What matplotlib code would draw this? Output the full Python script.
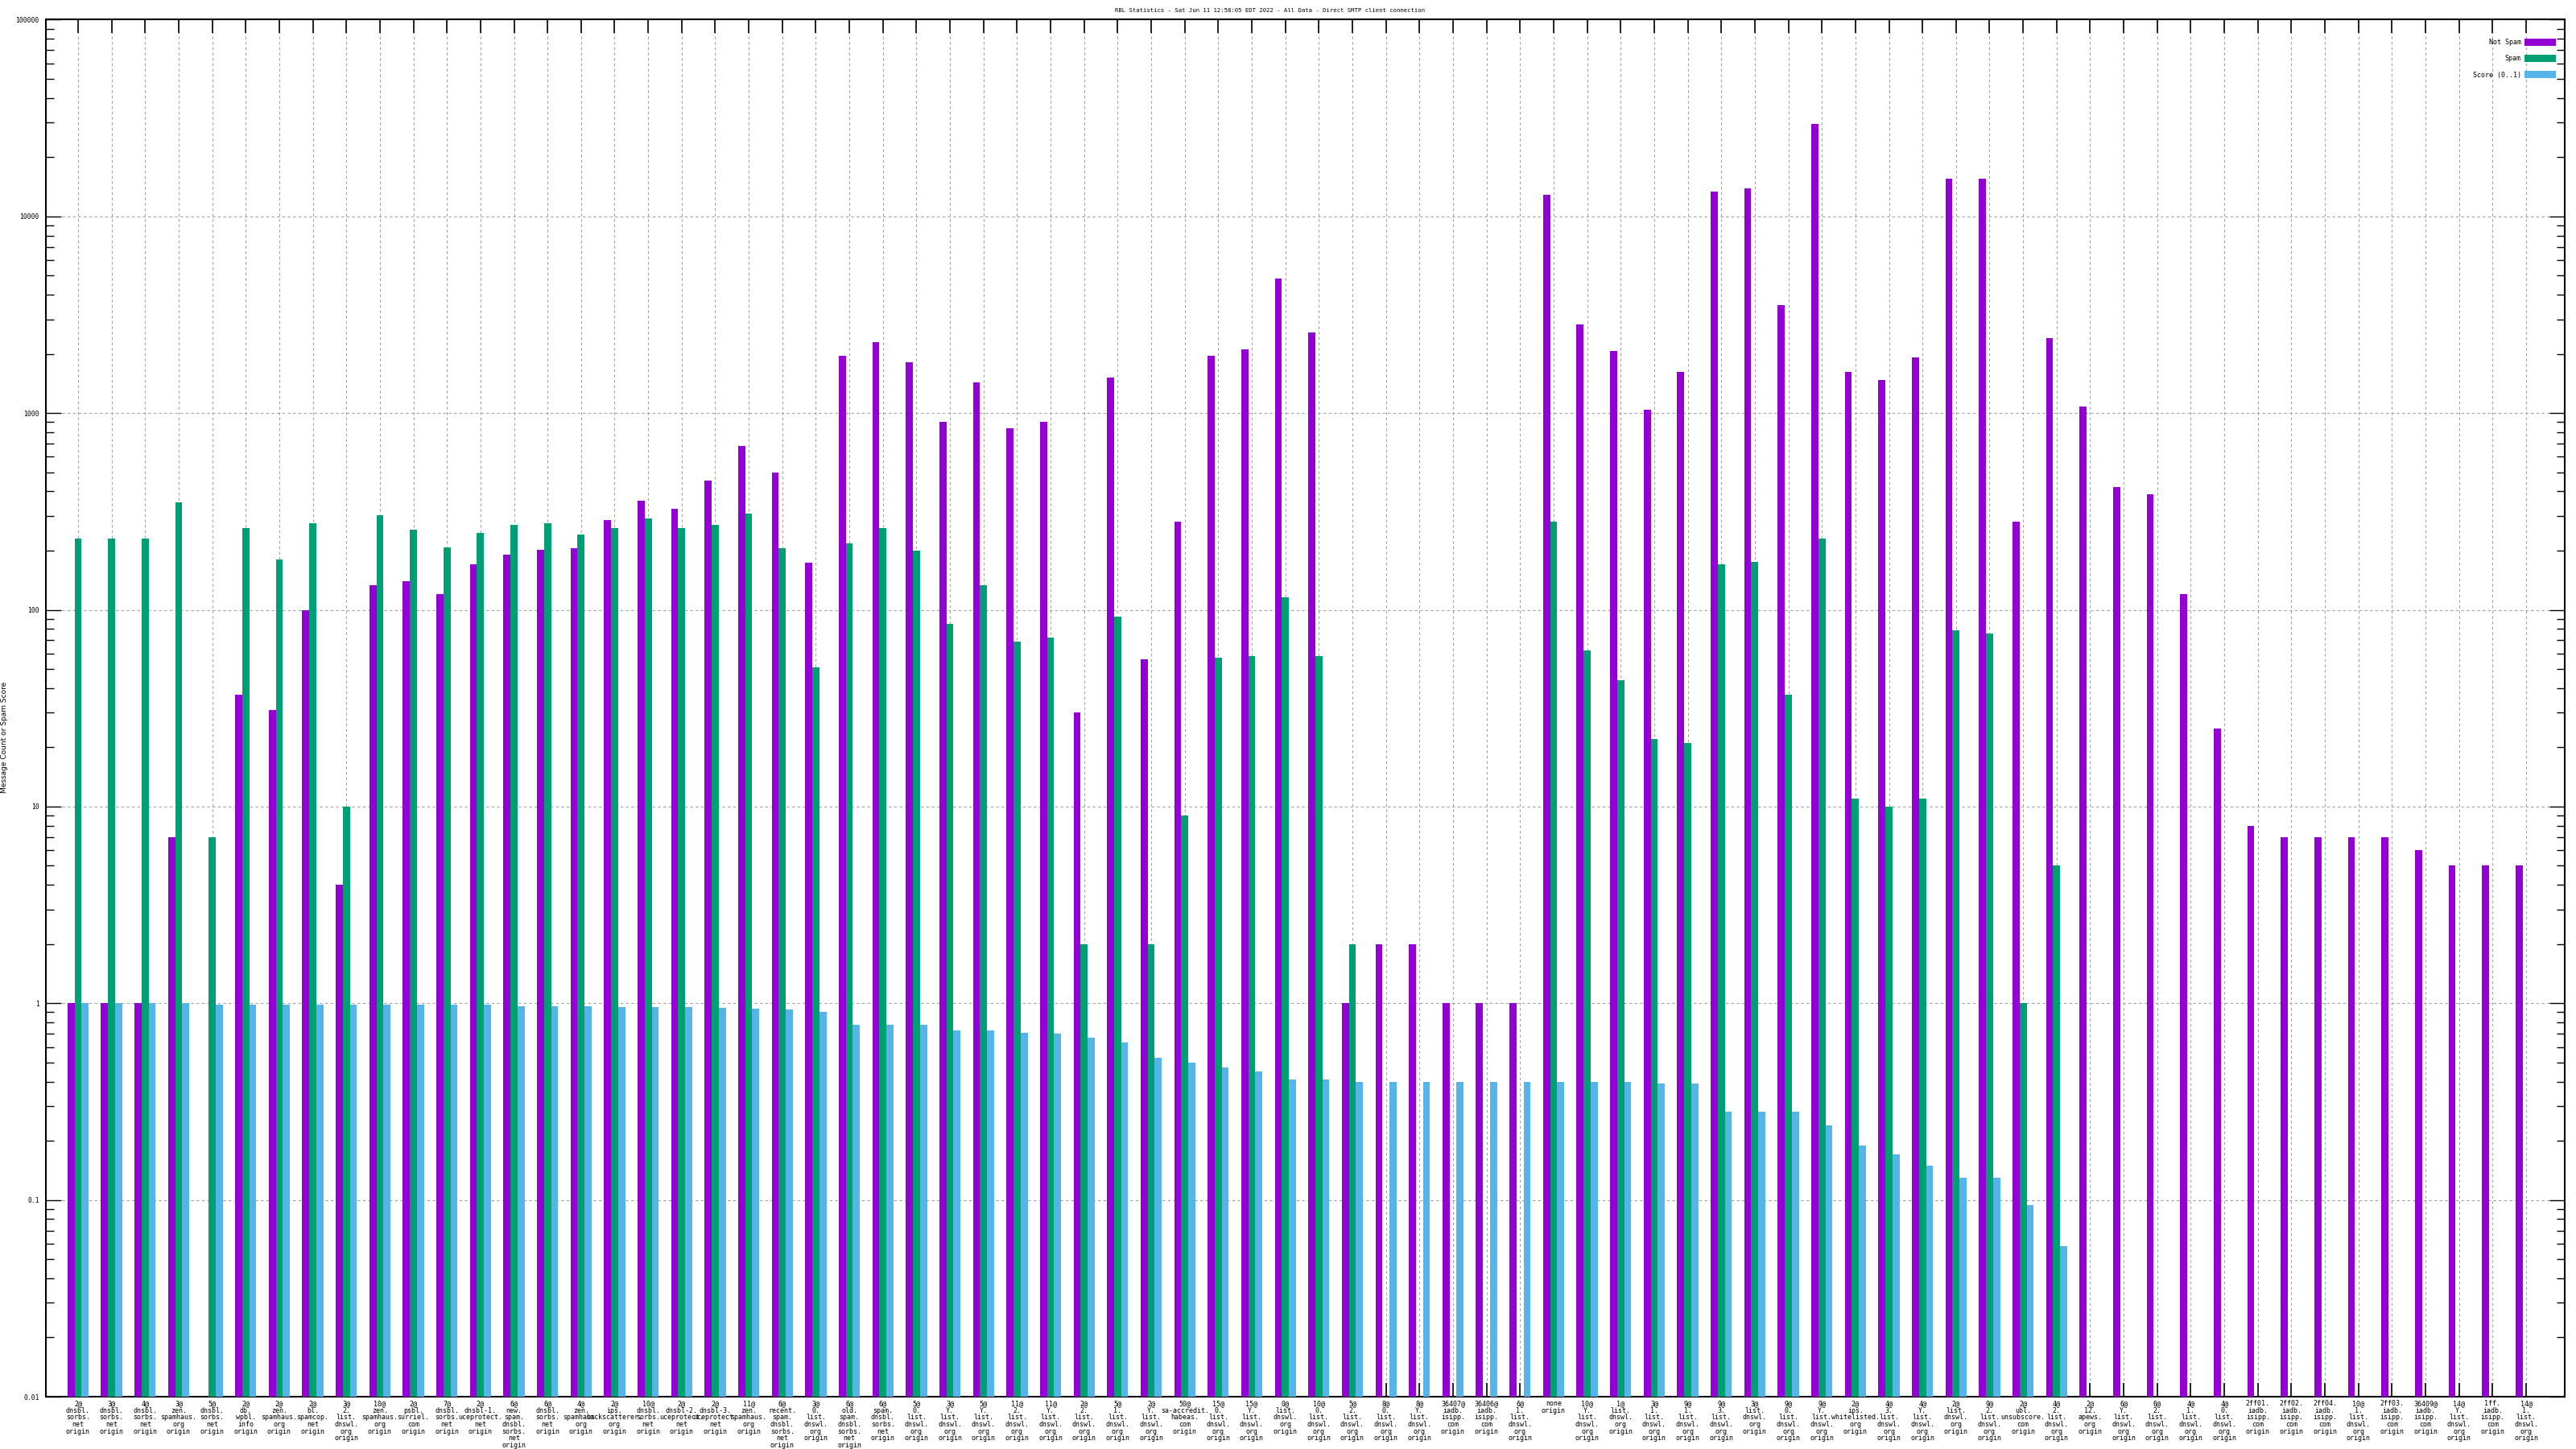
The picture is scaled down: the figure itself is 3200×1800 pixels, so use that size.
import matplotlib
matplotlib.use("Agg")
import matplotlib.pyplot as plt
from matplotlib.ticker import LogLocator, NullFormatter
import numpy as np

TITLE = "RBL Statistics - Sat Jun 11 12:58:05 EDT 2022 - All Data - Direct SMTP client connection"

# rbl sources, in plot order ("origin" is appended to each label)
sources = [
    "2@dnsbl.sorbs.net", "3@dnsbl.sorbs.net", "4@dnsbl.sorbs.net", "3@zen.spamhaus.org",
    "5@dnsbl.sorbs.net", "2@db.wpbl.info", "2@zen.spamhaus.org", "2@bl.spamcop.net",
    "3@2.list.dnswl.org", "10@zen.spamhaus.org", "2@psbl.surriel.com", "7@dnsbl.sorbs.net",
    "2@dnsbl-1.uceprotect.net", "6@new.spam.dnsbl.sorbs.net", "6@dnsbl.sorbs.net",
    "4@zen.spamhaus.org", "2@ips.backscatterer.org", "10@dnsbl.sorbs.net",
    "2@dnsbl-2.uceprotect.net", "2@dnsbl-3.uceprotect.net", "11@zen.spamhaus.org",
    "6@recent.spam.dnsbl.sorbs.net", "3@0.list.dnswl.org", "6@old.spam.dnsbl.sorbs.net",
    "6@spam.dnsbl.sorbs.net", "5@0.list.dnswl.org", "3@Y.list.dnswl.org", "5@Y.list.dnswl.org",
    "11@2.list.dnswl.org", "11@Y.list.dnswl.org", "2@2.list.dnswl.org", "5@1.list.dnswl.org",
    "2@Y.list.dnswl.org", "50@sa-accredit.habeas.com", "15@0.list.dnswl.org",
    "15@Y.list.dnswl.org", "0@list.dnswl.org", "10@0.list.dnswl.org", "5@2.list.dnswl.org",
    "8@0.list.dnswl.org", "8@Y.list.dnswl.org", "36407@iadb.isipp.com", "36406@iadb.isipp.com",
    "6@1.list.dnswl.org", "none", "10@Y.list.dnswl.org", "1@list.dnswl.org",
    "3@1.list.dnswl.org", "9@1.list.dnswl.org", "9@3.list.dnswl.org", "3@list.dnswl.org",
    "9@0.list.dnswl.org", "9@Y.list.dnswl.org", "2@ips.whitelisted.org", "4@3.list.dnswl.org",
    "4@Y.list.dnswl.org", "2@list.dnswl.org", "9@2.list.dnswl.org", "2@ubl.unsubscore.com",
    "4@2.list.dnswl.org", "2@12.apews.org", "6@Y.list.dnswl.org", "6@2.list.dnswl.org",
    "4@1.list.dnswl.org", "4@0.list.dnswl.org", "2ff01.iadb.isipp.com", "2ff02.iadb.isipp.com",
    "2ff04.iadb.isipp.com", "10@1.list.dnswl.org", "2ff03.iadb.isipp.com",
    "36409@iadb.isipp.com", "14@Y.list.dnswl.org", "1ff.iadb.isipp.com", "14@1.list.dnswl.org",
]

not_spam = [
    1, 1, 1, 7, 0, 37, 31, 100, 4, 133,
    140, 120, 170, 191, 202, 205, 286, 360, 327, 454,
    678, 500, 173, 1960, 2290, 1810, 906, 1440, 840, 900,
    30, 1520, 56, 280, 1960, 2110, 4830, 2560, 1, 2,
    2, 1, 1, 1, 12900, 2820, 2070, 1040, 1620, 13400,
    13900, 3550, 29500, 1620, 1470, 1920, 15600, 15600, 280, 2410,
    1080, 420, 387, 120, 25, 8, 7, 7, 7, 7,
    6, 5, 5, 5,
]

spam = [
    230, 230, 230, 353, 7, 260, 180, 275, 10, 302,
    255, 207, 245, 270, 275, 242, 260, 291, 260, 270,
    309, 205, 51, 218, 260, 200, 85, 133, 69, 72,
    2, 92, 2, 9, 57, 58, 116, 58, 2, 0,
    0, 0, 0, 0, 280, 62, 44, 22, 21, 170,
    175, 37, 230, 11, 10, 11, 79, 76, 1, 5,
    0, 0, 0, 0, 0, 0, 0, 0, 0, 0,
    0, 0, 0, 0,
]

score = [
    1, 1, 1, 1, 0.98, 0.98, 0.98, 0.98, 0.98, 0.98,
    0.98, 0.98, 0.98, 0.97, 0.97, 0.97, 0.96, 0.96, 0.96, 0.95,
    0.94, 0.93, 0.9, 0.78, 0.78, 0.78, 0.73, 0.73, 0.71, 0.7,
    0.67, 0.63, 0.53, 0.5, 0.47, 0.45, 0.41, 0.41, 0.4, 0.4,
    0.4, 0.4, 0.4, 0.4, 0.4, 0.4, 0.4, 0.39, 0.39, 0.28,
    0.28, 0.28, 0.24, 0.19, 0.17, 0.15, 0.13, 0.13, 0.094, 0.058,
    0, 0, 0, 0, 0, 0, 0, 0, 0, 0,
    0, 0, 0, 0,
]

y_ticks = [0.01, 0.1, 1, 10, 100, 1000, 10000, 100000]
y_tick_labels = ["0.01", "0.1", "1", "10", "100", "1000", "10000", "100000"]

PURPLE = "#9400d3"
GREEN = "#009e73"
BLUE = "#56b4e9"
MONO = "DejaVu Sans Mono"


def make_label(src):
    # gnuplot-ish stacked label: "2@" / "dnsbl." / "sorbs." / "net" / "origin"
    lines = []
    if "@" in src:
        head, src = src.split("@", 1)
        lines.append(head + "@")
    parts = src.split(".")
    for i, p in enumerate(parts):
        lines.append(p + ("." if i < len(parts) - 1 else ""))
    lines.append("origin")
    return "\n".join(lines)


def main():
    fig = plt.figure(figsize=(32, 18), dpi=100)
    ax = fig.add_axes([0.0178, 0.0361, 0.9778, 0.9503])

    x = np.arange(len(sources))
    w = 0.21
    ax.bar(x - w, not_spam, w, color=PURPLE, label="Not Spam", zorder=3)
    ax.bar(x, spam, w, color=GREEN, label="Spam", zorder=3)
    ax.bar(x + w, score, w, color=BLUE, label="Score (0..1)", zorder=3)

    ax.set_yscale("log")
    ax.set_ylim(0.01, 100000)
    ax.set_xlim(-0.96, len(sources) + 0.15)

    ax.set_yticks(y_ticks, labels=y_tick_labels)
    ax.yaxis.set_minor_locator(LogLocator(base=10, subs=np.arange(2, 10)))
    ax.yaxis.set_minor_formatter(NullFormatter())
    ax.set_xticks(x, labels=[make_label(s) for s in sources])

    ax.tick_params(axis="both", which="both", direction="in", top=True, right=True)
    ax.tick_params(axis="y", which="major", length=13.5, width=1, labelsize=5.8, pad=6)
    ax.tick_params(axis="y", which="minor", length=7, width=1)
    ax.tick_params(axis="x", which="major", length=12, width=1.2, labelsize=6, pad=3)
    for lbl in ax.get_xticklabels():
        lbl.set_fontfamily(MONO)
        lbl.set_linespacing(0.95)
        lbl.set_verticalalignment("top")
    for lbl in ax.get_yticklabels():
        lbl.set_fontfamily(MONO)

    ax.grid(True, which="major", color="#a0a0a0", linestyle=(0, (3, 3)), linewidth=0.8)
    ax.set_axisbelow(True)
    for sp in ax.spines.values():
        sp.set_linewidth(1.5)

    fig.text(0.493, 0.993, TITLE, ha="center", va="center", fontsize=5.2, family=MONO)
    fig.text(0.0018, 0.491, "Message Count or Spam Score", rotation=90,
             ha="center", va="center", fontsize=6.5, family="DejaVu Sans")

    ax.legend(loc="upper right", bbox_to_anchor=(0.9965, 0.9863), markerfirst=False,
              frameon=False, prop={"family": MONO, "size": 6},
              handlelength=4.7, handleheight=1.3, labelspacing=1.3,
              handletextpad=0.5, borderaxespad=0, borderpad=0)

    fig.savefig("out.png", dpi=100)


if __name__ == "__main__":
    main()
